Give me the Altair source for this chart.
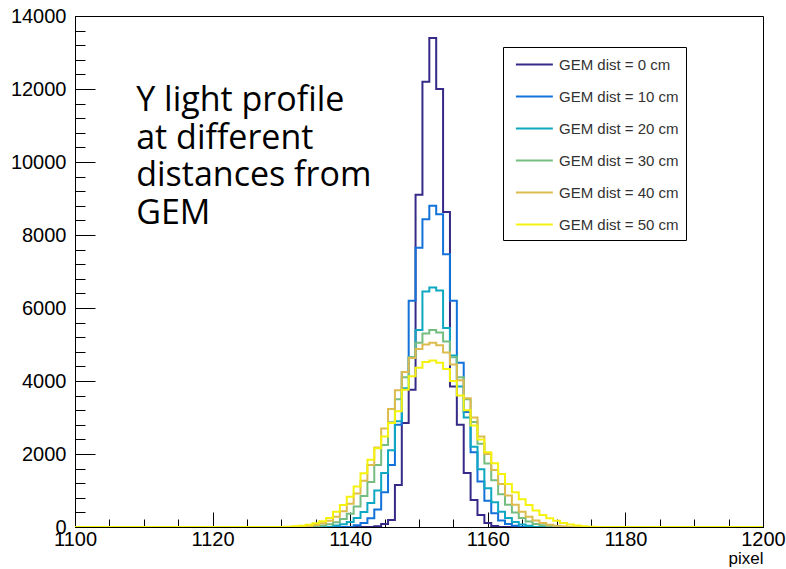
import altair as alt
import pandas as pd

# ---------------- data ----------------
pixel_first, pixel_last = 1100, 1200          # histogram bins, centred on integer pixels
series_labels = ["GEM dist = 0 cm", "GEM dist = 10 cm", "GEM dist = 20 cm",
                 "GEM dist = 30 cm", "GEM dist = 40 cm", "GEM dist = 50 cm"]
series_colors = ["#352a87", "#1272d9", "#0ea8c2", "#75bd80", "#dcbc4e", "#f5f20e"]

start_0 = 1144
counts_0 = [20, 80, 190, 1150, 2850, 3760, 9100, 12200, 13400, 12000, 8630, 3850,
            2800, 1480, 740, 330, 110, 30]
start_10 = 1141
counts_10 = [50, 110, 240, 480, 950, 1700, 2800, 4250, 6200, 7650, 8430, 8800, 8570,
             7470, 6200, 4500, 3150, 2050, 1250, 720, 380, 180, 80, 35]
start_20 = 1138
counts_20 = [40, 75, 140, 250, 410, 660, 1000, 1480, 2100, 2900, 3800, 4650, 5400,
             6450, 6560, 6480, 5450, 4700, 3850, 3000, 2200, 1580, 1060, 680, 420,
             250, 140, 70, 35]
start_30 = 1135
counts_30 = [20, 40, 75, 130, 220, 360, 560, 850, 1230, 1700, 2250, 2870, 3500, 4100,
             4650, 5050, 5300, 5400, 5330, 5080, 4650, 4100, 3500, 2880, 2280, 1740,
             1280, 900, 610, 400, 250, 150, 85, 45, 20]
start_40 = 1133
counts_40 = [15, 30, 55, 100, 170, 280, 430, 640, 920, 1270, 1700, 2180, 2700, 3230,
             3750, 4250, 4630, 4880, 5000, 5050, 4980, 4780, 4450, 4020, 3530, 3000,
             2480, 2000, 1560, 1180, 860, 610, 420, 280, 180, 110, 65, 35, 18]
start_50 = 1131
counts_50 = [10, 20, 35, 60, 100, 160, 250, 420, 600, 830, 1110, 1475, 1840, 2160,
             2480, 2850, 3170, 3760, 4130, 4360, 4520, 4560, 4500, 4330, 4000, 3600,
             3200, 2780, 2400, 2050, 1750, 1450, 1180, 950, 760, 600, 450, 330, 240,
             170, 110, 70, 40, 20, 10]

x_major = list(range(1100, 1201, 20))
x_minor = list(range(1100, 1201, 5))
y_major = list(range(0, 14001, 2000))
y_minor = list(range(0, 14001, 400))

note_text = "Y light profile\nat different\ndistances from\nGEM"
note_x, note_y = 1108.9, 11400

# ---------------- build table ----------------
starts = [start_0, start_10, start_20, start_30, start_40, start_50]
counts = [counts_0, counts_10, counts_20, counts_30, counts_40, counts_50]
rows = []
for lab, st, vals in zip(series_labels, starts, counts):
    for k in range(pixel_first, pixel_last + 1):
        i = k - st
        v = vals[i] if 0 <= i < len(vals) else 0
        rows.append({"series": lab, "edge": k - 0.5, "count": v})
    rows.append({"series": lab, "edge": pixel_last + 0.5, "count": 0})
df = pd.DataFrame(rows)

W, H = 688, 511
FONT = "Liberation Sans"
xscale = alt.Scale(domain=[1100, 1200], nice=False, zero=False)
yscale = alt.Scale(domain=[0, 14000], nice=False)

base = alt.Chart(df)

lines = base.mark_line(interpolate="step-after", strokeWidth=2, clip=True).encode(
    x=alt.X("edge:Q", scale=xscale,
            axis=alt.Axis(orient="bottom", values=x_major, format="d", ticks=False,
                          grid=False, labelFont=FONT, labelFontSize=20,
                          labelColor="black", labelPadding=2, labelFlush=False,
                          domainColor="black", title="pixel", titleAnchor="end",
                          titleFont=FONT, titleFontSize=17, titleFontWeight="normal",
                          titleColor="black", titlePadding=1)),
    y=alt.Y("count:Q", scale=yscale,
            axis=alt.Axis(orient="left", values=y_major, format="d", ticks=False,
                          grid=False, labelFont=FONT, labelFontSize=20,
                          labelColor="black", labelPadding=9, domainColor="black",
                          title=None)),
    color=alt.Color("series:N",
                    scale=alt.Scale(domain=series_labels, range=series_colors),
                    legend=alt.Legend(title=None, orient="none", legendX=428, legendY=31,
                                      symbolType="M-0.5,0H3.5", symbolSize=342,
                                      symbolStrokeWidth=2, labelFont=FONT,
                                      labelFontSize=15, labelColor="#333",
                                      labelOffset=28, strokeColor="black",
                                      fillColor="white", padding=7, rowPadding=13)),
)

major_ticks = base.mark_point(opacity=0).encode(
    x=alt.X("edge:Q", scale=xscale,
            axis=alt.Axis(orient="top", offset=-H, values=x_major, tickSize=15,
                          tickColor="black", labels=False, domain=False, grid=False,
                          title=None)),
    y=alt.Y("count:Q", scale=yscale,
            axis=alt.Axis(orient="right", offset=-W, values=y_major, tickSize=20,
                          tickColor="black", labels=False, domain=False, grid=False,
                          title=None)),
)

minor_ticks = base.mark_point(opacity=0).encode(
    x=alt.X("edge:Q", scale=xscale,
            axis=alt.Axis(orient="top", offset=-H, values=x_minor, tickSize=8,
                          tickColor="black", labels=False, domain=False, grid=False,
                          title=None)),
    y=alt.Y("count:Q", scale=yscale,
            axis=alt.Axis(orient="right", offset=-W, values=y_minor, tickSize=10,
                          tickColor="black", labels=False, domain=False, grid=False,
                          title=None)),
)

note = alt.Chart(pd.DataFrame({"x": [note_x], "y": [note_y]})).mark_text(
    text=note_text, lineBreak="\n", align="left", baseline="alphabetic",
    font="Open Sans", fontSize=34, lineHeight=37.7, color="black"
).encode(
    x=alt.X("x:Q", scale=xscale, axis=None),
    y=alt.Y("y:Q", scale=yscale, axis=None),
)

chart = alt.layer(lines, minor_ticks, major_ticks, note).resolve_axis(
    x="independent", y="independent"
).properties(
    width=W, height=H,
    autosize=alt.AutoSizeParams(type="none"),
    padding={"left": 75, "top": 16, "right": 23, "bottom": 42},
    background="white",
).configure_view(stroke="black", strokeWidth=1)

chart.save("out.html", embed_options={"renderer": "svg", "actions": False})
